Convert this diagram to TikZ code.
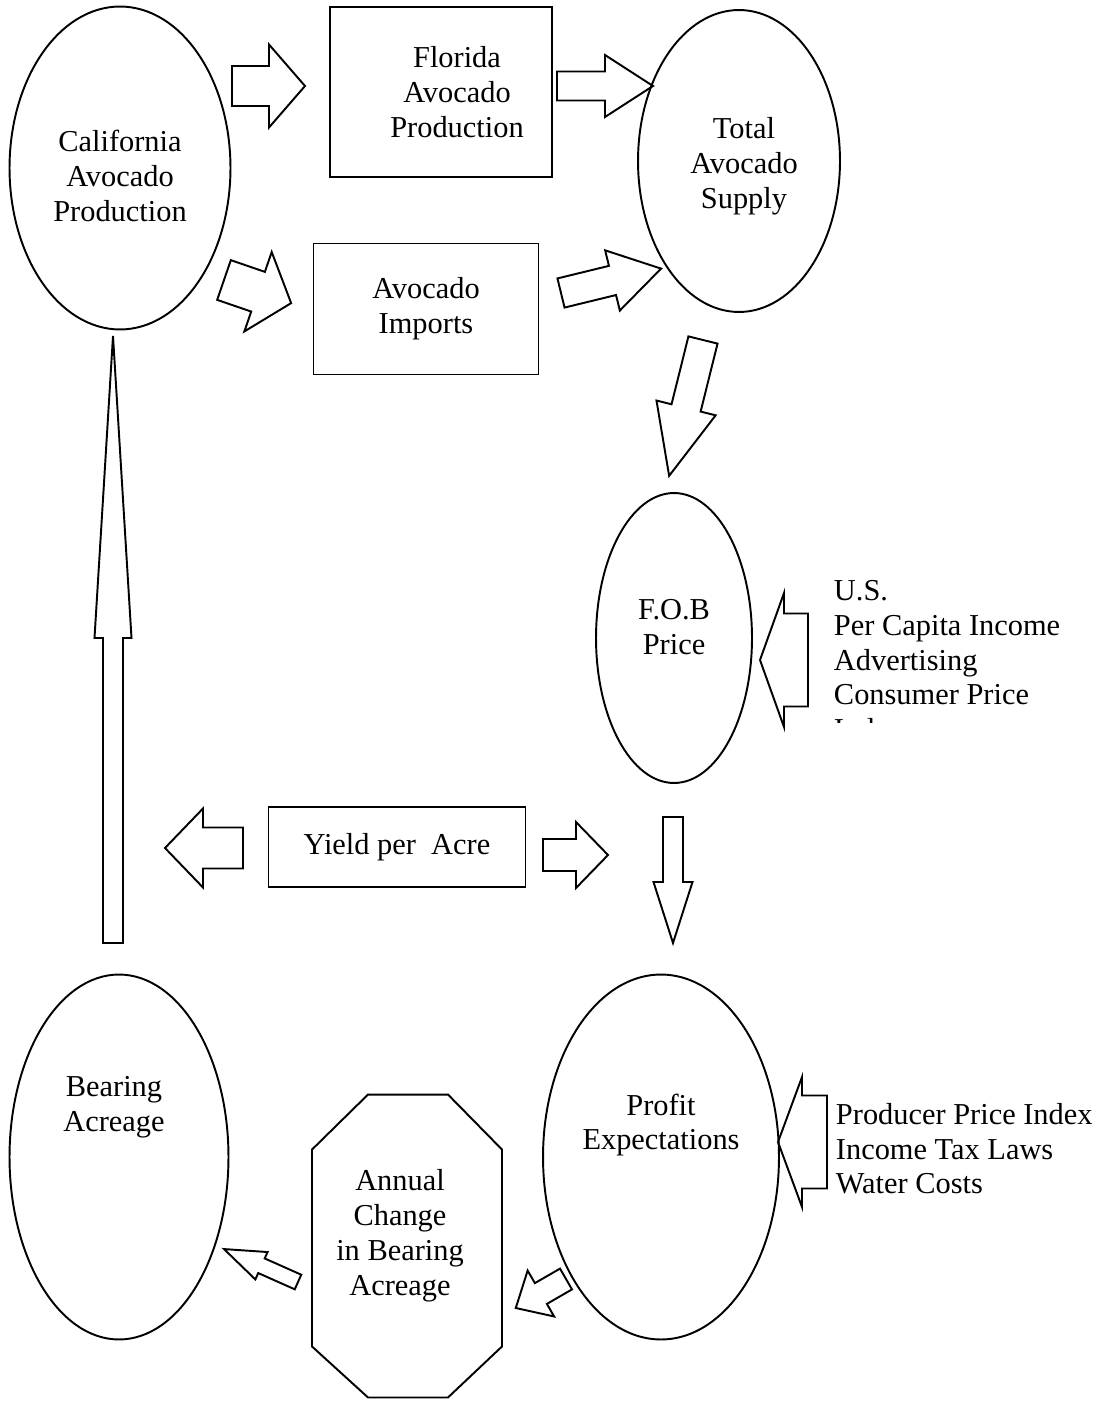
\documentclass[tikz,border=0pt]{standalone}
\usepackage{fontspec}
\setmainfont{Liberation Serif}
\usetikzlibrary{shapes.geometric}
\newcommand*{\diagfont}{\fontsize{17.3}{19.9}\selectfont}

\begin{document}
\begin{tikzpicture}[x=0.02cm, y=-0.02cm, line width=1.1pt,
      every node/.style={font=\diagfont},
      oval/.style={draw, ellipse, inner sep=0pt, align=center},
      box/.style={draw, rectangle, inner sep=0pt, align=center},
      outline/.style={draw, line join=miter},
      factors/.style={anchor=north west, inner sep=0pt, align=left},
      pics/blockarr/.style args={#1/#2/#3/#4}{code={
        \draw[outline] (0,{-#2/2}) -- ({#1-#4},{-#2/2}) -- ({#1-#4},{-#3/2}) -- (#1,0)
          -- ({#1-#4},{#3/2}) -- ({#1-#4},{#2/2}) -- (0,{#2/2}) -- cycle;}}]
  \useasboundingbox (0,0) rectangle (1109,1402);

  \node[oval, minimum width=4.42cm, minimum height=6.46cm] (cal) at (120,168) {};
  \node[align=center] at ([yshift=-0.16cm]cal.center) {California\\Avocado\\Production};
  \node[box, minimum width=4.44cm, minimum height=3.4cm] (fla) at (441,92) {};
  \node[align=center] at ([xshift=0.32cm]fla.center) {Florida\\Avocado\\Production};
  \node[box, minimum width=4.5cm, minimum height=2.62cm] (imp) at (426,309) {Avocado\\Imports};
  \node[oval, minimum width=4.04cm, minimum height=6.04cm] (tot) at (739,161) {};
  \node[align=center] at ([shift={(0.1cm,-0.1cm)}]tot.center) {Total\\Avocado\\Supply};
  \node[oval, minimum width=3.12cm, minimum height=5.8cm] (fob) at (674,638) {};
  \node[align=center] at ([yshift=0.22cm]fob.center) {F.O.B\\Price};
  \node[box, minimum width=5.14cm, minimum height=1.6cm] (yld) at (397,847) {Yield per\ \ Acre};
  \node[oval, minimum width=4.72cm, minimum height=7.3cm] (pro) at (661,1157) {};
  \node[align=center] at ([yshift=0.64cm]pro.center) {Profit\\Expectations};
  \node[oval, minimum width=4.38cm, minimum height=7.3cm] (bear) at (119,1157) {};
  \node[align=center] at ([shift={(-0.1cm,1cm)}]bear.center) {Bearing\\Acreage};

  % octagon for the annual change
  \node[minimum width=3.8cm, minimum height=6.06cm, outer sep=0pt] (chg) at (407,1246) {};
  \draw ([xshift=1.12cm]chg.north west) -- ([xshift=-1.08cm]chg.north east)
    -- ([yshift=-1.1cm]chg.north east) -- ([yshift=1.02cm]chg.south east)
    -- ([xshift=-1.08cm]chg.south east) -- ([xshift=1.12cm]chg.south west)
    -- ([yshift=1.02cm]chg.south west) -- ([yshift=-1.1cm]chg.north west) -- cycle;
  \node[align=center] at ([shift={(-0.14cm,0.2cm)}]chg.center) {Annual\\Change\\in Bearing\\Acreage};

  \begin{scope}
    \clip (815,560) rectangle (1109,722);
    \node[factors] (fobx) at (833,579) {U.S.\\Per Capita Income\\Advertising\\Consumer Price\\Index};
  \end{scope}
  \node[factors] (prox) at (835,1102) {Producer Price Index\\Income Tax Laws\\Water Costs};

  \pic at (232,86) {blockarr=73/40/83/36};
  \pic[rotate=-19] at (224,280) {blockarr=71/42/84/35};
  \pic at (557,86) {blockarr=96/29/62/48};
  \pic[rotate=13.7] at (561,293) {blockarr=103/30/62/50};
  \pic[rotate=-104] at (703,340) {blockarr=140/30/61/70};
  \pic[rotate=180] at (808,660) {blockarr=48/93/134/24};
  \pic[rotate=180] at (243,848) {blockarr=78/41/79/38};
  \pic at (543,855) {blockarr=65/32/66/32};
  \pic[rotate=-90] at (673,817) {blockarr=126/20/39/61};
  \pic[rotate=90] at (113,943) {blockarr=607/20/37/302};
  \pic[rotate=156] at (298,1282) {blockarr=81/16/30/41};
  \pic[rotate=180] at (827,1142) {blockarr=49/93/130/24};
  \pic[rotate=-150] at (566,1279) {blockarr=58/24/53/29};
\end{tikzpicture}
\end{document}
